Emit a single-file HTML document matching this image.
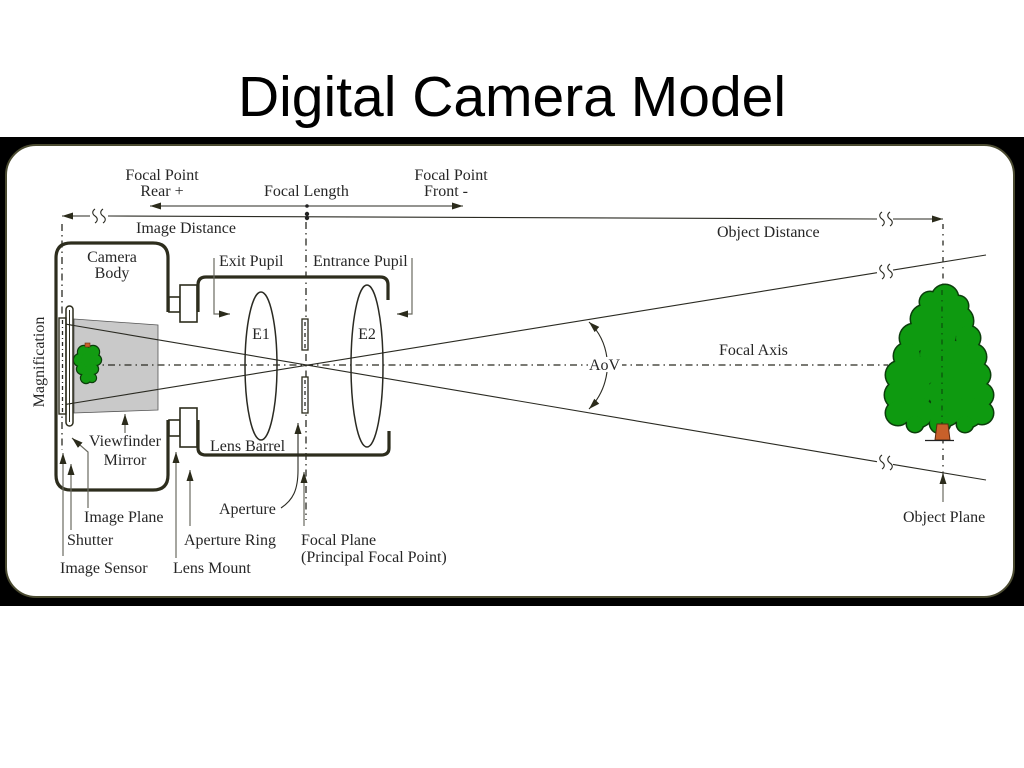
<!DOCTYPE html>
<html><head><meta charset="utf-8"><style>
html,body{margin:0;padding:0;background:#fff;}
svg{display:block;}
.t{font-family:"Liberation Serif",serif;font-size:16px;fill:#262626;}
.ln{stroke:#2a2a22;stroke-width:1.1;fill:none;}
.gl{stroke:#6a6a60;stroke-width:1.2;fill:none;}
.dd{stroke:#2a2a22;stroke-width:1.3;fill:none;stroke-dasharray:7,4,1.5,4;}
.th{stroke:#2d2d1d;stroke-width:3.2;fill:none;stroke-linejoin:round;}
.md{stroke:#2d2d1d;stroke-width:1.6;fill:#fff;}
</style></head><body>
<svg width="1024" height="768" viewBox="0 0 1024 768" xmlns="http://www.w3.org/2000/svg">
<defs>
<marker id="ah" markerUnits="userSpaceOnUse" markerWidth="12" markerHeight="8" refX="11" refY="4" orient="auto">
<path d="M0,0.5 L11,4 L0,7.5 z" fill="#2b2b1b"/>
</marker>
</defs>

<text x="512" y="116" text-anchor="middle" style="font-family:'Liberation Sans',sans-serif;font-size:57px;fill:#000;">Digital Camera Model</text>

<!-- frame -->
<rect x="0" y="137" width="1024" height="469" fill="#000"/>
<rect x="6" y="145" width="1008" height="452" rx="30" ry="30" fill="#fff" stroke="#4a4a30" stroke-width="2"/>

<!-- top labels -->
<text class="t" x="162" y="180" text-anchor="middle">Focal Point</text>
<text class="t" x="162" y="196" text-anchor="middle">Rear +</text>
<text class="t" x="264" y="196">Focal Length</text>
<text class="t" x="451" y="180" text-anchor="middle">Focal Point</text>
<text class="t" x="446" y="196" text-anchor="middle">Front -</text>
<text class="t" x="136" y="233">Image Distance</text>
<text class="t" x="717" y="237">Object Distance</text>

<!-- focal length arrows -->
<line class="ln" x1="307" y1="206" x2="150" y2="206" marker-end="url(#ah)"/>
<line class="ln" x1="307" y1="206" x2="463" y2="206" marker-end="url(#ah)"/>
<circle cx="307" cy="206" r="1.8" fill="#222"/>

<!-- distance line -->
<line class="ln" x1="90" y1="216" x2="62" y2="216" marker-end="url(#ah)"/>
<line class="ln" x1="108" y1="216" x2="877" y2="219"/>
<line class="ln" x1="893" y1="219" x2="943" y2="219" marker-end="url(#ah)"/>
<path class="ln" d="M95,209 c-3,2 -3,5 0,7 c3,2 3,5 0,7 M103,209 c-3,2 -3,5 0,7 c3,2 3,5 0,7"/>
<path class="ln" d="M882,212 c-3,2 -3,5 0,7 c3,2 3,5 0,7 M890,212 c-3,2 -3,5 0,7 c3,2 3,5 0,7"/>
<circle cx="307" cy="214" r="2.2" fill="#222"/>
<circle cx="307" cy="218" r="2.2" fill="#222"/>

<!-- vertical dash-dot planes -->
<line class="dd" x1="62" y1="224" x2="62" y2="450"/>
<line class="dd" x1="306" y1="222" x2="306" y2="520"/>
<line class="dd" x1="943" y1="224" x2="943" y2="478" style="stroke-dasharray:5,5,1.5,5"/>

<!-- rays -->
<line class="ln" x1="65" y1="324" x2="877" y2="461.7"/>
<line class="ln" x1="893" y1="464.4" x2="986" y2="480"/>
<path class="ln" d="M882,455 c-3,2 -3,5 0,7 c3,2 3,5 0,7 M890,456 c-3,2 -3,5 0,7 c3,2 3,5 0,7"/>
<line class="ln" x1="62" y1="405" x2="877" y2="272.7"/>
<line class="ln" x1="893" y1="270.1" x2="986" y2="255"/>
<path class="ln" d="M882,265 c-3,2 -3,5 0,7 c3,2 3,5 0,7 M890,264 c-3,2 -3,5 0,7 c3,2 3,5 0,7"/>

<!-- focal axis -->
<line class="dd" x1="75" y1="365" x2="888" y2="365"/>

<!-- viewfinder mirror -->
<polygon points="74,319 158,325 158,410 74,413" fill="#c9c9c9" stroke="#555" stroke-width="0.8"/>
<line class="ln" x1="65" y1="324" x2="158" y2="339.8"/>
<line class="ln" x1="62" y1="405" x2="158" y2="389.4"/>
<line class="dd" x1="75" y1="365" x2="158" y2="365"/>

<!-- small inverted tree -->
<g>
<g fill="#0b3d0b">
<circle cx="84" cy="352" r="7.2"/><circle cx="93" cy="352" r="7.2"/><circle cx="80" cy="360" r="7.2"/><circle cx="96" cy="360" r="6.2"/><circle cx="88" cy="360" r="8.2"/><circle cx="82" cy="369" r="6.2"/><circle cx="93" cy="369" r="6.2"/><circle cx="88" cy="372" r="7.2"/><circle cx="86" cy="378" r="6.2"/><circle cx="92" cy="378" r="5.2"/>
</g>
<g fill="#129c12">
<circle cx="84" cy="352" r="6"/><circle cx="93" cy="352" r="6"/><circle cx="80" cy="360" r="6"/><circle cx="96" cy="360" r="5"/><circle cx="88" cy="360" r="7"/><circle cx="82" cy="369" r="5"/><circle cx="93" cy="369" r="5"/><circle cx="88" cy="372" r="6"/><circle cx="86" cy="378" r="5"/><circle cx="92" cy="378" r="4"/>
</g>
<rect x="85" y="343" width="5" height="4" fill="#c8602a" stroke="#6a2a10" stroke-width="0.6"/>
</g>

<!-- sensor & shutter -->
<rect x="59" y="318" width="7" height="96" fill="#fff" stroke="#2d2d1d" stroke-width="1.4"/>
<line class="dd" x1="62.5" y1="320" x2="62.5" y2="412" style="stroke-dasharray:4,3,1,3"/>
<rect x="66" y="306" width="7" height="120" rx="3.5" ry="3.5" fill="none" stroke="#2d2d1d" stroke-width="1.5"/>
<line x1="69.5" y1="310" x2="69.5" y2="422" stroke="#2d2d1d" stroke-width="1"/>

<!-- camera body -->
<path class="th" d="M168,312 V258 Q168,243 153,243 H71 Q56,243 56,258 V475 Q56,490 71,490 H153 Q168,490 168,475 V420"/>
<text class="t" x="112" y="262" text-anchor="middle">Camera</text>
<text class="t" x="112" y="278" text-anchor="middle">Body</text>

<!-- lens mount -->
<rect class="md" x="169" y="297" width="11" height="15"/>
<rect class="md" x="180" y="285" width="17" height="37"/>
<rect class="md" x="169" y="420" width="11" height="16"/>
<rect class="md" x="180" y="408" width="17" height="39"/>

<!-- lens barrel -->
<path class="th" d="M198,312 V285 Q198,277 206,277 H380 Q388,277 388,285 V300"/>
<path class="th" d="M198,420 V448 Q198,455 206,455 H381 Q389,455 389,448 V431"/>
<text class="t" x="210" y="451">Lens Barrel</text>

<!-- lenses -->
<ellipse cx="261" cy="366" rx="16" ry="74" fill="none" stroke="#2a2a22" stroke-width="1.5"/>
<ellipse cx="367" cy="366" rx="16" ry="81" fill="none" stroke="#2a2a22" stroke-width="1.5"/>
<text class="t" x="261" y="339" text-anchor="middle">E1</text>
<text class="t" x="367" y="339" text-anchor="middle">E2</text>

<!-- aperture blades -->
<rect x="302" y="319" width="6" height="31" fill="#fff" stroke="#2d2d1d" stroke-width="1.3"/>
<rect x="302" y="377" width="6" height="36" fill="#fff" stroke="#2d2d1d" stroke-width="1.3"/>
<line class="dd" x1="305" y1="322" x2="305" y2="348" style="stroke-dasharray:4,3,1,3"/>
<line class="dd" x1="305" y1="380" x2="305" y2="411" style="stroke-dasharray:4,3,1,3"/>

<!-- pupils -->
<text class="t" x="219" y="266">Exit Pupil</text>
<text class="t" x="313" y="266">Entrance Pupil</text>
<path class="gl" d="M214,258 V314 H230" marker-end="url(#ah)"/>
<path class="gl" d="M412,258 V314 H397" marker-end="url(#ah)"/>

<!-- AoV -->
<path class="ln" d="M624,365 Q626,345 591,323" marker-end="url(#ah)" style="display:none"/>
<path class="ln" d="M607,358 Q604,336 589,322" marker-end="url(#ah)"/>
<path class="ln" d="M607,372 Q604,394 589,409" marker-end="url(#ah)"/>
<rect x="588" y="357" width="34" height="15" fill="#fff"/>
<text class="t" x="589" y="370">AoV</text>
<text class="t" x="719" y="355">Focal Axis</text>

<!-- big tree -->
<g>
<g fill="#0b3d0b">
<circle cx="945" cy="298" r="14.5"/><circle cx="930" cy="302" r="11.5"/><circle cx="958" cy="306" r="11.5"/>
<circle cx="925" cy="319" r="15.5"/><circle cx="958" cy="321" r="16.5"/><circle cx="942" cy="315" r="14.5"/>
<circle cx="914" cy="338" r="15.5"/><circle cx="968" cy="338" r="13.5"/><circle cx="940" cy="335" r="17.5"/>
<circle cx="907" cy="356" r="14.5"/><circle cx="973" cy="357" r="14.5"/><circle cx="935" cy="355" r="16.5"/><circle cx="955" cy="355" r="15.5"/>
<circle cx="900" cy="375" r="15.5"/><circle cx="978" cy="375" r="13.5"/><circle cx="920" cy="372" r="16.5"/><circle cx="945" cy="372" r="18.5"/><circle cx="966" cy="375" r="14.5"/>
<circle cx="899" cy="395" r="15.5"/><circle cx="981" cy="395" r="13.5"/><circle cx="918" cy="392" r="15.5"/><circle cx="945" cy="392" r="18.5"/><circle cx="968" cy="393" r="15.5"/>
<circle cx="898" cy="413" r="13.5"/><circle cx="982" cy="413" r="12.5"/><circle cx="918" cy="412" r="16.5"/><circle cx="945" cy="410" r="17.5"/><circle cx="968" cy="412" r="16.5"/>
<circle cx="940" cy="423" r="11.5"/><circle cx="915" cy="424" r="9.5"/><circle cx="965" cy="424" r="9.5"/>
</g>
<g fill="#0e9a10">
<circle cx="945" cy="298" r="13"/><circle cx="930" cy="302" r="10"/><circle cx="958" cy="306" r="10"/>
<circle cx="925" cy="319" r="14"/><circle cx="958" cy="321" r="15"/><circle cx="942" cy="315" r="13"/>
<circle cx="914" cy="338" r="14"/><circle cx="968" cy="338" r="12"/><circle cx="940" cy="335" r="16"/>
<circle cx="907" cy="356" r="13"/><circle cx="973" cy="357" r="13"/><circle cx="935" cy="355" r="15"/><circle cx="955" cy="355" r="14"/>
<circle cx="900" cy="375" r="14"/><circle cx="978" cy="375" r="12"/><circle cx="920" cy="372" r="15"/><circle cx="945" cy="372" r="17"/><circle cx="966" cy="375" r="13"/>
<circle cx="899" cy="395" r="14"/><circle cx="981" cy="395" r="12"/><circle cx="918" cy="392" r="14"/><circle cx="945" cy="392" r="17"/><circle cx="968" cy="393" r="14"/>
<circle cx="898" cy="413" r="12"/><circle cx="982" cy="413" r="11"/><circle cx="918" cy="412" r="15"/><circle cx="945" cy="410" r="16"/><circle cx="968" cy="412" r="15"/>
<circle cx="940" cy="423" r="10"/><circle cx="915" cy="424" r="8"/><circle cx="965" cy="424" r="8"/>
</g>
<line x1="942" y1="290" x2="942" y2="430" stroke="#0b3d0b" stroke-width="1" stroke-dasharray="5,5,1.5,5"/>
<path d="M935,440 L937,424 L948,424 L950,440 z" fill="#c8602a" stroke="#5a2a10" stroke-width="1"/>
<line x1="925" y1="440.5" x2="954" y2="440.5" stroke="#222" stroke-width="1.3"/>
</g>

<!-- magnification -->
<text class="t" transform="translate(44,362) rotate(-90)" text-anchor="middle">Magnification</text>

<!-- viewfinder label -->
<text class="t" x="125" y="446" text-anchor="middle">Viewfinder</text>
<text class="t" x="125" y="465" text-anchor="middle">Mirror</text>
<line class="gl" x1="125" y1="433" x2="125" y2="414" marker-end="url(#ah)"/>

<!-- bottom leaders -->
<path class="gl" d="M88,508 V452 L72,438" marker-end="url(#ah)"/>
<line class="gl" x1="71" y1="530" x2="71" y2="464" marker-end="url(#ah)"/>
<line class="gl" x1="63" y1="556" x2="63" y2="453" marker-end="url(#ah)"/>
<line class="gl" x1="176" y1="558" x2="176" y2="452" marker-end="url(#ah)"/>
<line class="gl" x1="190" y1="526" x2="190" y2="470" marker-end="url(#ah)"/>
<path class="ln" d="M281,508 C293,500 298,490 298,470 V423" marker-end="url(#ah)"/>
<line class="gl" x1="304" y1="526" x2="304" y2="472" marker-end="url(#ah)"/>
<line class="gl" x1="943" y1="502" x2="943" y2="473" marker-end="url(#ah)"/>

<text class="t" x="84" y="522">Image Plane</text>
<text class="t" x="219" y="514">Aperture</text>
<text class="t" x="903" y="522">Object Plane</text>
<text class="t" x="67" y="545">Shutter</text>
<text class="t" x="184" y="545">Aperture Ring</text>
<text class="t" x="301" y="545">Focal Plane</text>
<text class="t" x="301" y="562">(Principal Focal Point)</text>
<text class="t" x="60" y="573">Image Sensor</text>
<text class="t" x="173" y="573">Lens Mount</text>
</svg>
</body></html>
